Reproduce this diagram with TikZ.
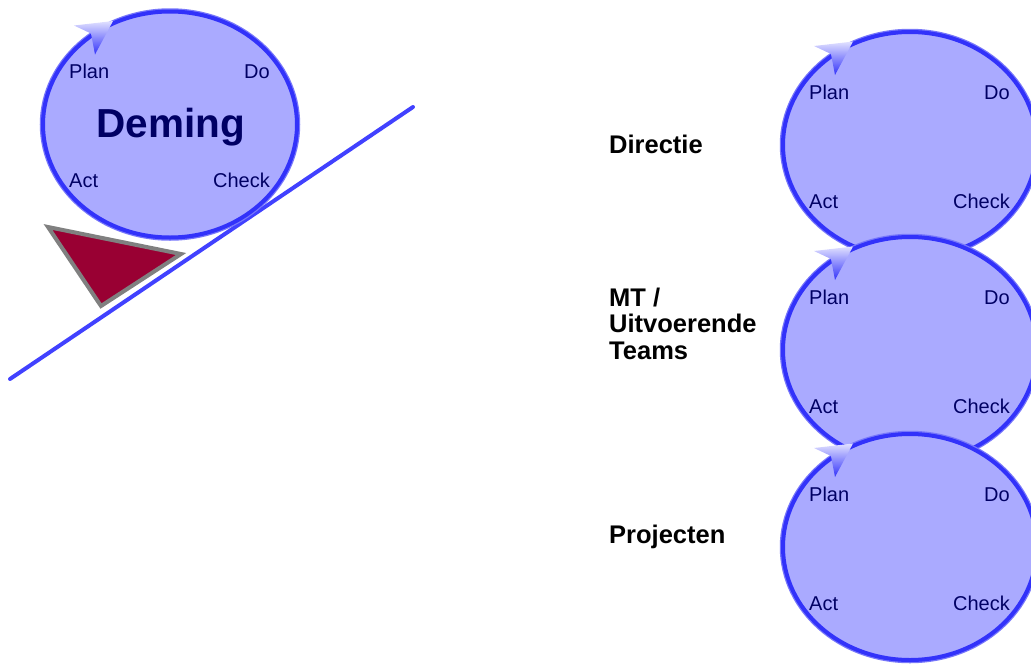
\documentclass[tikz,border=0pt]{standalone}
\usepackage{fontspec}
\setmainfont{Liberation Sans}
\usetikzlibrary{shapes.geometric}
\definecolor{lav}{RGB}{170,170,255}
\definecolor{rim}{RGB}{50,50,250}
\definecolor{rimsoft}{RGB}{120,120,250}
\definecolor{navy}{RGB}{0,0,100}
\definecolor{wine}{RGB}{153,0,51}
\definecolor{edgegray}{RGB}{128,128,128}
\definecolor{linkblue}{RGB}{65,65,255}
\definecolor{headlight}{RGB}{225,225,255}
\tikzset{
  wheel/.style={ellipse, fill=lav, draw=rim, line width=4,
    preaction={draw=rimsoft, line width=6.5},
    minimum width=254, minimum height=226, inner sep=0},
  phase/.style={text=navy, font=\fontsize{20}{24}\selectfont, inner sep=0},
  levellabel/.style={text=black, font=\bfseries\fontsize{25.5}{26.5}\selectfont, inner sep=0, align=left},
  pdca/.pic={
    \node[wheel] (-circle) at (0,0) {};
    \shade[top color=headlight, bottom color=rim]
      (-96,-99) -- (-57,-103.5) -- (-75,-70) -- (-79,-91) -- cycle;
    \node[phase, anchor=base west] (-plan) at (-101,-46) {Plan};
    \node[phase, anchor=base east] (-do) at (100,-46) {Do};
    \node[phase, anchor=base west] (-act) at (-101,63) {Act};
    \node[phase, anchor=base east] (-check) at (100,63) {Check};
  }
}
\begin{document}
\begin{tikzpicture}[x=1pt,y=-1pt]
\useasboundingbox (0,0) rectangle (1031,664);
\clip (0,0) rectangle (1031,664);
% left: Deming wheel on an incline with a wedge
\coordinate (slopelow) at (10,379);
\coordinate (slopehigh) at (413,107);
\draw[linkblue, line width=4, line cap=round] (slopelow) -- (slopehigh);
\fill[wine, draw=edgegray, line width=4] (48,227) -- (181,254) -- (101,306) -- cycle;
\pic (dem) at (170,124.5) {pdca};
\node[text=navy, font=\bfseries\fontsize{40.5}{44}\selectfont, inner sep=0, anchor=base] (deming) at (171,137) {Deming};
% right: three stacked wheels
\pic (c1) at (910,145) {pdca};
\pic (c2) at (910,350) {pdca};
\pic (c3) at (910,547) {pdca};
\node[levellabel, anchor=base west] (directie) at (609,153) {Directie};
\node[levellabel, anchor=base west] (mt) at (609,359) {MT /\\Uitvoerende\\Teams};
\node[levellabel, anchor=base west] (projecten) at (609,543) {Projecten};
\end{tikzpicture}
\end{document}
